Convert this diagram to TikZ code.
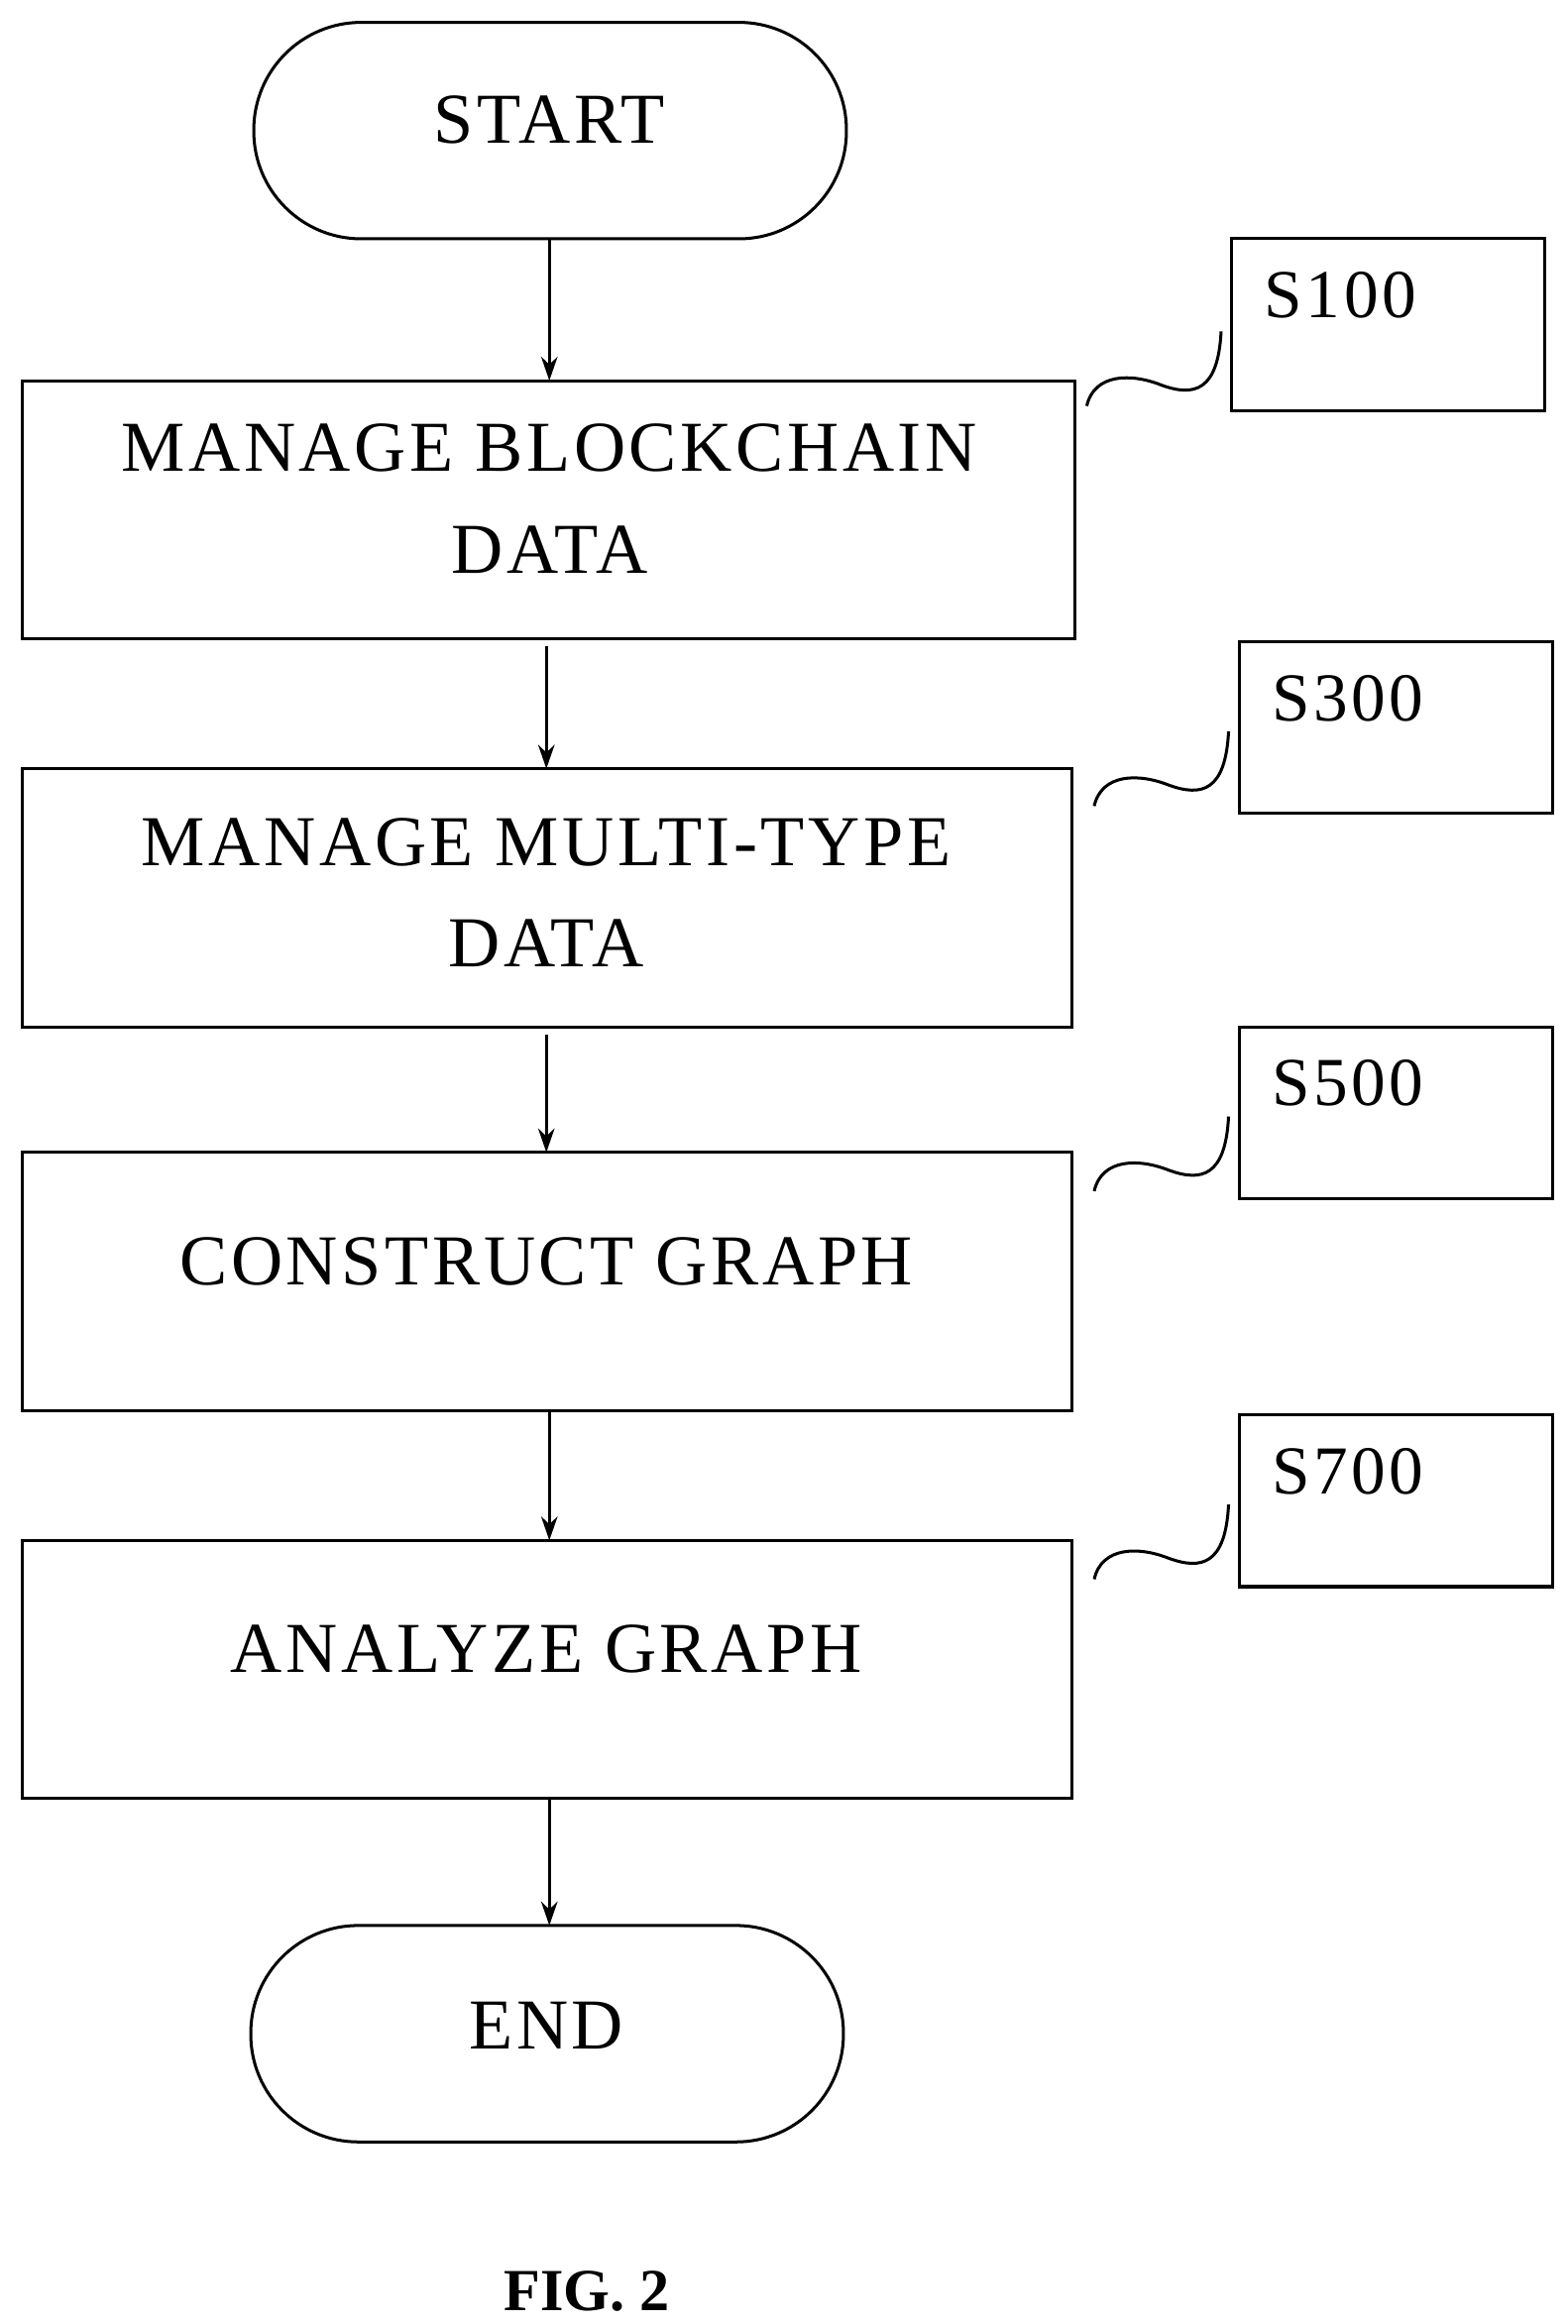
\documentclass[tikz,border=0pt]{standalone}
\usepackage{fontspec}
\setmainfont{Liberation Serif}
\newfontfamily\spaced[LetterSpace=5]{Liberation Serif}
\usetikzlibrary{arrows.meta}
\begin{document}
\begin{tikzpicture}[x=1pt,y=-1pt,
  box/.style={draw,line width=2pt},
  txt/.style={font=\spaced\fontsize{48}{56}\selectfont,inner sep=0pt},
  lbl/.style={font=\spaced\fontsize{46}{54}\selectfont,inner sep=0pt,anchor=north west},
  arr/.style={line width=2pt,-{Stealth[length=16pt,width=11pt]}},
  sq/.style={line width=2pt}]
\useasboundingbox (0,0) rectangle (1050,1557);
\draw[box,rounded corners=72pt] (170,15) rectangle (567,160);
\node[txt] (start) at (368,80) {START};
\draw[box] (15,255) rectangle (720,428);
\node[txt,align=center] (b1) at (368,334) {MANAGE BLOCKCHAIN\\[12pt]DATA};
\draw[box] (15,515) rectangle (718,688);
\node[txt,align=center] (b2) at (366,598) {MANAGE MULTI-TYPE\\[12pt]DATA};
\draw[box] (15,772) rectangle (718,945);
\node[txt] (b3) at (366,845) {CONSTRUCT GRAPH};
\draw[box] (15,1032) rectangle (718,1205);
\node[txt] (b4) at (366,1105) {ANALYZE GRAPH};
\draw[box,rounded corners=72pt] (168,1290) rectangle (565,1435);
\node[txt] (end) at (366,1357) {END};
\coordinate (a0) at (368,160); \coordinate (a1) at (368,255);
\coordinate (c0) at (366,433); \coordinate (c1) at (366,515);
\coordinate (d0) at (366,693); \coordinate (d1) at (366,772);
\coordinate (e0) at (368,945); \coordinate (e1) at (368,1032);
\coordinate (f0) at (368,1205); \coordinate (f1) at (368,1290);
\draw[arr] (a0) -- (a1); \draw[arr] (c0) -- (c1); \draw[arr] (d0) -- (d1);
\draw[arr] (e0) -- (e1); \draw[arr] (f0) -- (f1);
\foreach \x/\y/\t in {825/160/S100,830/430/S300,830/688/S500,830/948/S700}{
  \draw[box] (\x,\y) rectangle (\x+210,\y+115);
  \node[lbl] at (\x+22,\y+22) {\t};
}
\foreach \x/\y in {728/272,733/540,733/798,733/1058}{
  \draw[sq] (\x,\y) .. controls (\x+5,\y-22) and (\x+30,\y-22) .. (\x+50,\y-14)
    .. controls (\x+72,\y-6) and (\x+88,\y-10) .. (\x+90,\y-50);
}
\node[font=\bfseries\fontsize{40}{48}\selectfont,inner sep=0pt] (fig) at (393,1535) {FIG. 2};
\end{tikzpicture}
\end{document}
